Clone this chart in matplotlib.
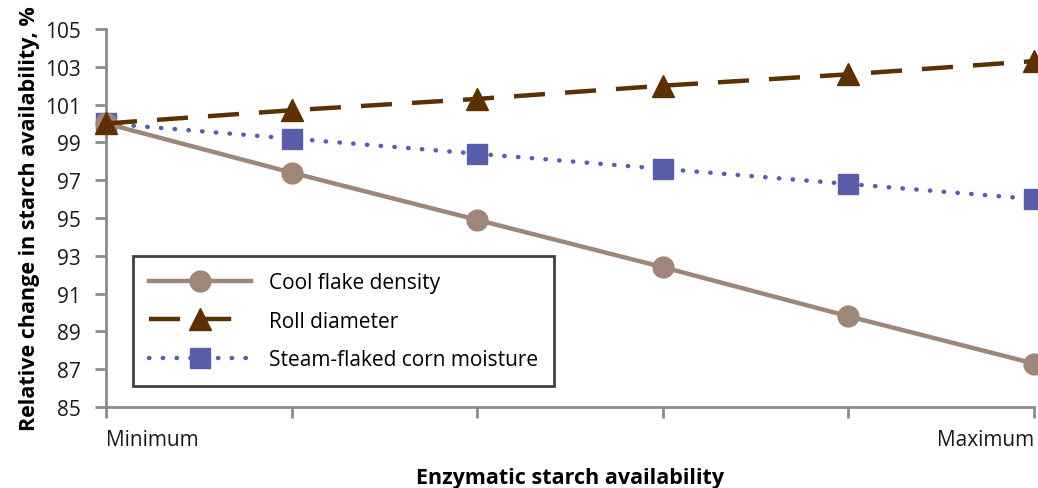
import matplotlib
matplotlib.use("Agg")
import matplotlib.pyplot as plt

# posiciones del eje X (0 = minimo, 5 = maximo)
x_steps = [0, 1, 2, 3, 4, 5]
x_labels = ["Minimum", "", "", "", "", "Maximum"]

cool_flake_density = [100.0, 97.4, 94.9, 92.4, 89.8, 87.3]
roll_diameter = [100.0, 100.7, 101.3, 102.0, 102.6, 103.3]
steam_flaked_moisture = [100.0, 99.2, 98.4, 97.6, 96.8, 96.0]

y_ticks = [85, 87, 89, 91, 93, 95, 97, 99, 101, 103, 105]

plt.rcParams["font.family"] = ["Open Sans", "DejaVu Sans"]

fig = plt.figure(figsize=(10.38, 4.89), dpi=100)
ax = fig.add_axes([0.1021, 0.1656, 0.8941, 0.7731])

# orden de dibujo: cuadrado abajo, luego circulo, triangulo encima
ax.plot(x_steps, cool_flake_density, color="#A08579", linewidth=3.2,
        marker="o", markersize=15, label="Cool flake density", zorder=4)
ax.plot(x_steps, roll_diameter, color="#5C3000", linewidth=3.2,
        linestyle=(0, (7, 4.5)), marker="^", markersize=16,
        label="Roll diameter", zorder=5)
ax.plot(x_steps, steam_flaked_moisture, color="#5A5EAA", linewidth=3.2,
        linestyle=(0, (0.1, 3.0)), dash_capstyle="round", marker="s",
        markersize=15, label="Steam-flaked corn moisture", zorder=3)

ax.set_xlim(0, 5)
ax.set_ylim(85, 105)
ax.set_yticks(y_ticks)
ax.set_xticks(x_steps)
ax.set_xticklabels(x_labels)
for lbl, ha in zip(ax.get_xticklabels(), ["left", "center", "center", "center", "center", "right"]):
    lbl.set_horizontalalignment(ha)

for s in ["top", "right"]:
    ax.spines[s].set_visible(False)
for s in ["left", "bottom"]:
    ax.spines[s].set_color("#8C8C8C")
    ax.spines[s].set_linewidth(2)
ax.tick_params(axis="both", color="#8C8C8C", width=2, length=8,
               labelsize=15, labelcolor="#1a1a1a")
ax.tick_params(axis="x", pad=8)
ax.tick_params(axis="y", pad=10)

ax.set_xlabel("Enzymatic starch availability", fontsize=15.5, fontweight="bold",
              labelpad=12)
ax.set_ylabel("Relative change in starch availability, %", fontsize=15.5,
              fontweight="bold", labelpad=4)

leg = ax.legend(loc="lower left", bbox_to_anchor=(0.029, 0.056),
                fontsize=15, frameon=True, fancybox=False,
                handlelength=4.9, borderpad=0.75, labelspacing=0.85,
                handletextpad=0.9, borderaxespad=0)
leg.get_frame().set_edgecolor("#111111")
leg.get_frame().set_linewidth(2.0)
for clip in ax.lines:
    clip.set_clip_on(False)

fig.savefig("out.png", dpi=100)
